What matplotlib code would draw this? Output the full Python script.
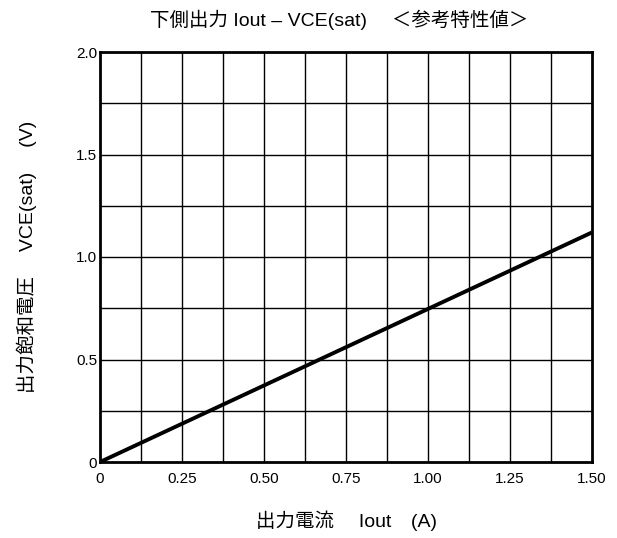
import matplotlib
matplotlib.use("Agg")
import matplotlib.pyplot as plt
import numpy as np

plt.rcParams['font.family'] = ['Liberation Sans', 'Noto Sans CJK JP', 'DejaVu Sans']

iout = [0.0, 1.5]
vce = [0.0, 1.12]
xticks = [0, 0.25, 0.50, 0.75, 1.00, 1.25, 1.50]
xticklabels = ['0', '0.25', '0.50', '0.75', '1.00', '1.25', '1.50']
yticks = [0, 0.5, 1.0, 1.5, 2.0]
yticklabels = ['0', '0.5', '1.0', '1.5', '2.0']

W, H = 617, 538
fig = plt.figure(figsize=(W / 100, H / 100), dpi=100)
ax = fig.add_axes([100 / W, 1 - 462 / H, 492 / W, 410 / H])

for xv in np.arange(0.125, 1.5, 0.125):
    ax.axvline(xv, color='black', lw=1.0, zorder=1)
for yv in np.arange(0.25, 2.0, 0.25):
    ax.axhline(yv, color='black', lw=1.0, zorder=1)

ax.plot(iout, vce, color='black', lw=2.8, zorder=3, solid_capstyle='butt')
ax.set_xlim(0, 1.5)
ax.set_ylim(0, 2.0)
ax.set_xticks(xticks)
ax.set_xticklabels(xticklabels)
ax.set_yticks(yticks)
ax.set_yticklabels(yticklabels)
ax.tick_params(length=0, labelsize=11)
ax.tick_params(axis='x', pad=7)
ax.tick_params(axis='y', pad=2)
for s in ax.spines.values():
    s.set_linewidth(2.0)

fig.text(339 / W, 1 - 20 / H, '下側出力 Iout – VCE(sat)\u3000 ＜参考特性値＞',
         ha='center', va='center', fontsize=14)
fig.text(347 / W, 1 - 521 / H, '出力電流\u3000 Iout\u3000(A)',
         ha='center', va='center', fontsize=14)
fig.text(27 / W, 1 - 257 / H, '出力飽和電圧\u3000 VCE(sat)\u3000 (V)',
         ha='center', va='center', fontsize=14, rotation=90)

fig.savefig('out.png', dpi=100)
